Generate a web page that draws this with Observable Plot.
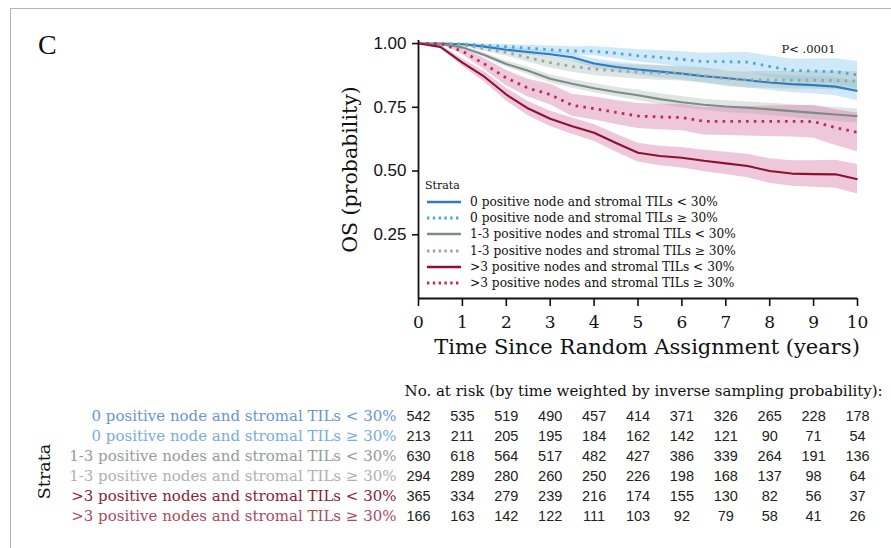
<!DOCTYPE html>
<html><head><meta charset="utf-8">
<script src="https://cdn.jsdelivr.net/npm/d3@7"></script>
<script src="https://cdn.jsdelivr.net/npm/@observablehq/plot@0.6"></script>
<style>
body{margin:0;background:#fff;}
#page{position:relative;width:891px;height:548px;overflow:hidden;background:#fff;}
#frame{position:absolute;left:10px;top:8px;width:900px;height:600px;border-left:1.5px solid #b4b4b4;border-top:1.5px solid #b4b4b4;}
#panel{position:absolute;left:38px;top:29px;font:28px 'Liberation Serif',serif;color:#111;}
#km{position:absolute;left:0;top:0;}
#risk{position:absolute;left:0;top:370px;}
#legend{position:absolute;left:425px;top:178px;font-family:'DejaVu Serif',serif;color:#111;}
#legend .ttl{font-size:11px;height:16px;line-height:16px;}
#legend .row{height:16.2px;display:flex;align-items:center;font-size:12.2px;white-space:nowrap;}
#legend svg{margin-right:7px;}
</style>
</head><body>
<div id="page">
  <div id="frame"></div>
  <div id="panel">C</div>
  <div id="km"></div>
  <div id="legend"></div>
  <div id="risk"></div>
</div>
<script>
const SLAB = "'DejaVu Serif', serif";
const SANS = "'Liberation Sans', Arial, sans-serif";

// Strata (categories)
const strata = [
  "0 positive node and stromal TILs < 30%",
  "0 positive node and stromal TILs \u2265 30%",
  "1-3 positive nodes and stromal TILs < 30%",
  "1-3 positive nodes and stromal TILs \u2265 30%",
  ">3 positive nodes and stromal TILs < 30%",
  ">3 positive nodes and stromal TILs \u2265 30%"
];
const lineColors = ["#2f7bc2", "#4aa6e0", "#7e8b87", "#93aaa2", "#8c1230", "#bb2a5c"];
const bandColors = ["#7cc3ee", "#7cc3ee", "#a4b6ae", "#a4b6ae", "#d67aaa", "#d67aaa"];
const dashed = [false, true, false, true, false, true];
const labelColors = ["#6a95d2", "#78acdc", "#959c9a", "#adb2b0", "#8a2336", "#a84c5d"];

// Survival estimates, time in years
const years = [0,0.5,1,1.5,2,2.5,3,3.5,4,4.5,5,5.5,6,6.5,7,7.5,8,8.5,9,9.5,10];
const survA = [1,1,0.997,0.988,0.976,0.967,0.958,0.946,0.922,0.908,0.898,0.89,0.882,0.872,0.865,0.856,0.847,0.841,0.837,0.831,0.814];
const survB = [1,1,0.998,0.993,0.988,0.982,0.976,0.971,0.970,0.962,0.952,0.946,0.938,0.929,0.929,0.927,0.91,0.895,0.892,0.89,0.877];
const survC = [1,0.998,0.985,0.955,0.92,0.893,0.862,0.842,0.825,0.81,0.797,0.782,0.77,0.76,0.753,0.748,0.742,0.735,0.728,0.722,0.715];
const survD = [1,1,0.995,0.98,0.965,0.945,0.925,0.91,0.9,0.893,0.888,0.884,0.882,0.875,0.862,0.858,0.857,0.856,0.856,0.855,0.853];
const survE = [1,0.987,0.925,0.87,0.8,0.745,0.705,0.676,0.65,0.61,0.572,0.559,0.552,0.54,0.53,0.52,0.5,0.49,0.488,0.487,0.468];
const survF = [1,1,0.97,0.92,0.865,0.825,0.8,0.758,0.745,0.73,0.716,0.712,0.71,0.695,0.695,0.695,0.695,0.695,0.694,0.67,0.652];
// 95% CI half-widths
const ciA = [0,0,0.003,0.006,0.009,0.011,0.013,0.015,0.018,0.02,0.022,0.024,0.025,0.027,0.028,0.03,0.031,0.033,0.034,0.036,0.038];
const ciB = [0,0,0.002,0.005,0.008,0.011,0.014,0.016,0.018,0.021,0.024,0.027,0.03,0.033,0.035,0.038,0.041,0.044,0.047,0.05,0.053];
const ciC = [0,0.002,0.005,0.009,0.012,0.014,0.016,0.017,0.018,0.019,0.02,0.021,0.022,0.022,0.023,0.023,0.024,0.025,0.026,0.027,0.028];
const ciD = [0,0,0.004,0.01,0.014,0.018,0.021,0.023,0.025,0.026,0.027,0.028,0.029,0.03,0.031,0.032,0.033,0.034,0.035,0.036,0.037];
const ciE = [0,0.006,0.014,0.02,0.025,0.028,0.03,0.032,0.033,0.035,0.037,0.038,0.04,0.042,0.044,0.046,0.048,0.05,0.052,0.055,0.058];
const ciF = [0,0,0.013,0.022,0.03,0.035,0.04,0.043,0.045,0.047,0.049,0.05,0.052,0.054,0.056,0.058,0.06,0.062,0.064,0.07,0.076];

// Number at risk
const riskYears = [0,1,2,3,4,5,6,7,8,9,10];
const riskA = [542,535,519,490,457,414,371,326,265,228,178];
const riskB = [213,211,205,195,184,162,142,121,90,71,54];
const riskC = [630,618,564,517,482,427,386,339,264,191,136];
const riskD = [294,289,280,260,250,226,198,168,137,98,64];
const riskE = [365,334,279,239,216,174,155,130,82,56,37];
const riskF = [166,163,142,122,111,103,92,79,58,41,26];

const xTicks = [0,1,2,3,4,5,6,7,8,9,10];
const yTicks = [0.25,0.5,0.75,1.0];
const xTitle = "Time Since Random Assignment (years)";
const yTitle = "OS (probability)";
const pLabel = "P< .0001";
const riskHeader = "No. at risk (by time weighted by inverse sampling probability):";
const riskTitle = "Strata";
const legendTitle = "Strata";

const survs = [survA, survB, survC, survD, survE, survF];
const cis = [ciA, ciB, ciC, ciD, ciE, ciF];
const risks = [riskA, riskB, riskC, riskD, riskE, riskF];

const series = strata.map((s, k) => years.map((t, i) => ({
  t, s: survs[k][i], lo: survs[k][i] - cis[k][i], hi: Math.min(1, survs[k][i] + cis[k][i]), stratum: s
})));

const bandMarks = series.map((d, k) => Plot.areaY(d, {x: "t", y1: "lo", y2: "hi", fill: bandColors[k], fillOpacity: k >= 4 ? 0.42 : 0.36}));
const lineMarks = series.map((d, k) => Plot.lineY(d, {
  x: "t", y: "s", stroke: lineColors[k],
  strokeWidth: dashed[k] ? 2.8 : 2.1,
  strokeDasharray: dashed[k] ? "2.6,5.2" : null,
  strokeLinecap: "butt",
  strokeLinejoin: "round"
}));

const km = Plot.plot({
  width: 891, height: 370,
  marginLeft: 418, marginRight: 34, marginTop: 40, marginBottom: 72,
  x: {domain: [0, 10]},
  y: {domain: [0, 1.012]},
  style: {fontFamily: SLAB, background: "transparent", overflow: "visible", color: "#111"},
  marks: [
    ...bandMarks,
    ...lineMarks,
    Plot.axisX({ticks: xTicks, tickSize: 8, tickPadding: 9, fontSize: 17, label: null, tickFormat: d => String(d), strokeWidth: 1.6}),
    Plot.axisY({ticks: yTicks, tickSize: 6, tickPadding: 6, fontSize: 17, fontFamily: SANS, label: null, tickFormat: d3.format(".2f"), strokeWidth: 1.6}),
    Plot.ruleY([0], {stroke: "#111", strokeWidth: 1.8}),
    Plot.ruleX([0], {y1: 0, y2: 1.012, stroke: "#111", strokeWidth: 1.8}),
    Plot.text([xTitle], {text: d => d, frameAnchor: "bottom", dx: 9, dy: 55, fontSize: 21, textAnchor: "middle"}),
    Plot.text([yTitle], {text: d => d, frameAnchor: "left", dx: -68, rotate: -90, fontSize: 20.5, textAnchor: "middle"}),
    Plot.text([pLabel], {text: d => d, frameAnchor: "top-right", dx: -22, dy: 4, fontSize: 11.5, textAnchor: "end"})
  ]
});
document.getElementById("km").appendChild(km);

// Legend
const leg = document.getElementById("legend");
const ttl = document.createElement("div"); ttl.className = "ttl"; ttl.textContent = legendTitle; leg.appendChild(ttl);
strata.forEach((s, k) => {
  const row = document.createElement("div"); row.className = "row";
  const ns = "http://www.w3.org/2000/svg";
  const sv = document.createElementNS(ns, "svg"); sv.setAttribute("width", 38); sv.setAttribute("height", 10);
  const ln = document.createElementNS(ns, "line");
  ln.setAttribute("x1", 2); ln.setAttribute("x2", 36); ln.setAttribute("y1", 5); ln.setAttribute("y2", 5);
  ln.setAttribute("stroke", lineColors[k]);
  ln.setAttribute("stroke-width", dashed[k] ? 2.8 : 2.4);
  if (dashed[k]) { ln.setAttribute("stroke-dasharray", "2.4,3.4"); }
  sv.appendChild(ln); row.appendChild(sv);
  const sp = document.createElement("span"); sp.textContent = s; row.appendChild(sp);
  leg.appendChild(row);
});

// Risk table
const riskRows = strata.flatMap((s, k) => riskYears.map((t, i) => ({t, n: risks[k][i], stratum: s})));
const risk = Plot.plot({
  width: 891, height: 178,
  marginLeft: 418, marginRight: 34, marginTop: 0, marginBottom: 0,
  x: {domain: [0, 10], axis: null},
  y: {type: "point", domain: strata, range: [44, 148], padding: 0, axis: null},
  color: {type: "identity"},
  style: {fontFamily: SLAB, background: "transparent", overflow: "visible", color: "#111"},
  marks: [
    Plot.text(riskRows, {x: "t", y: "stratum", text: d => String(d.n), fontFamily: SANS, fontSize: 14.5, fill: "#222"}),
    Plot.text(strata, {x: () => 0, y: d => d, text: d => d, textAnchor: "end", dx: -22, fontSize: 15, fill: (d, i) => labelColors[i]}),
    Plot.text([riskHeader], {text: d => d, frameAnchor: "top-left", dx: -14, dy: 21, textAnchor: "start", lineAnchor: "middle", fontSize: 15}),
    Plot.text([riskTitle], {text: d => d, frameAnchor: "left", dx: -374, dy: 12, rotate: -90, fontSize: 17.5, textAnchor: "middle"})
  ]
});
document.getElementById("risk").appendChild(risk);
</script>
</body></html>
